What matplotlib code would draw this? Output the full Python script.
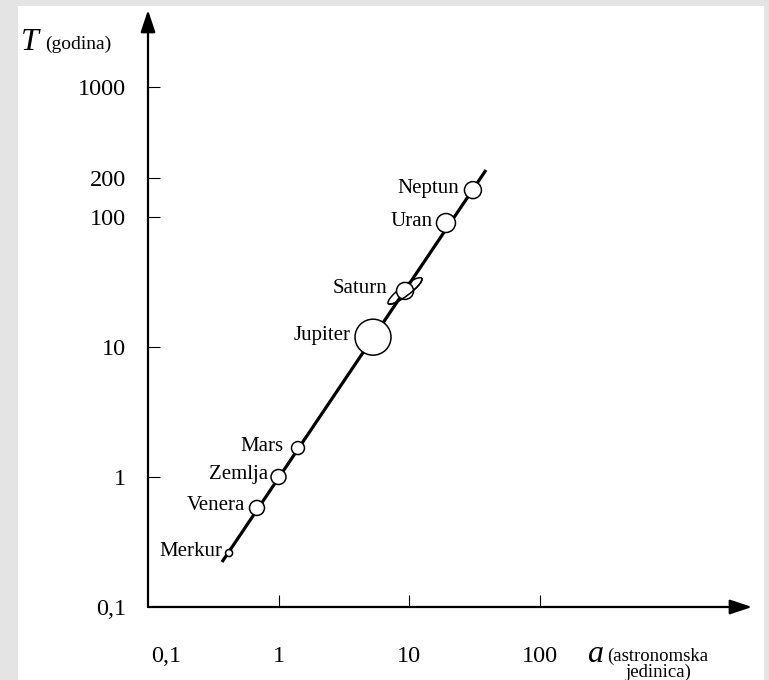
import numpy as np
import matplotlib
matplotlib.use("Agg")
import matplotlib.pyplot as plt
from matplotlib.patches import Rectangle, Ellipse, Arc
from matplotlib.transforms import ScaledTranslation

plt.rcParams['font.family'] = ['Liberation Serif', 'DejaVu Serif']

# planet data: semi-major axis a (AU) and period T (years)
planets = ['Merkur', 'Venera', 'Zemlja', 'Mars', 'Jupiter', 'Saturn', 'Uran', 'Neptun']
a_au = [0.418, 0.684, 1.0, 1.41, 5.30, 9.32, 19.2, 30.9]
T_yr = [0.26, 0.578, 1.0, 1.67, 11.9, 27.0, 89.9, 161]
# drawn size of each planet symbol (pixels, diameter)
size_px = [7, 15, 15, 13, 36, 17, 19, 17]
# gap between symbol and its name (pixels)
gap_px = [3, 4, 3, 8, 4, 9, 4, 5]

# the straight line through the points
line_a = [0.369, 38.9]
line_T = [0.222, 230]

x_ticks = [1, 10, 100]
x_labels = ['1', '10', '100']
y_ticks = [0.1, 1, 10, 100, 200, 1000]
y_labels = ['0,1', '1', '10', '100', '200', '1000']

W, H, DPI = 769, 680, 100
fig = plt.figure(figsize=(W / DPI, H / DPI), dpi=DPI)
fig.patch.set_facecolor('#e4e4e4')
fig.patches.append(Rectangle((18 / W, 0), (764 - 18) / W, (H - 6) / H,
                             transform=fig.transFigure, facecolor='white',
                             edgecolor='none', zorder=0))

# axes: origin (0.1, 0.1) at pixel (148, 607), one decade ~130 px
x0, y0, x1, y1 = 148, 607, 752, 10
ax = fig.add_axes([x0 / W, (H - y0) / H, (x1 - x0) / W, (y0 - y1) / H])
ax.set_zorder(2)
ax.set_facecolor('none')
ax.set_xscale('log')
ax.set_yscale('log')
ax.set_xlim(0.1, 0.1 * 10 ** ((x1 - x0) / 130.5))
ax.set_ylim(0.1, 0.1 * 10 ** ((y0 - y1) / 130.0))
for s in ax.spines.values():
    s.set_visible(False)

# axis arrows
arrow = dict(arrowstyle='-|>,head_length=0.9,head_width=0.3', lw=1.6,
             color='black', shrinkA=0, shrinkB=0, mutation_scale=15)
ax.annotate('', xy=(1, 0), xytext=(0, 0), xycoords='axes fraction', arrowprops=arrow)
ax.annotate('', xy=(0, 1), xytext=(0, 0), xycoords='axes fraction', arrowprops=arrow)

ax.set_xticks(x_ticks)
ax.set_xticklabels(x_labels)
ax.set_yticks(y_ticks)
ax.set_yticklabels(y_labels)
ax.minorticks_off()
ax.tick_params(direction='in', length=8.5, width=0.8, labelsize=17.5)
ax.tick_params(axis='x', pad=28)
ax.tick_params(axis='y', pad=16)
ax.yaxis.get_major_ticks()[0].tick1line.set_visible(False)

ax.annotate('0,1', xy=(0.1, 0.1), xytext=(18, -50), textcoords='offset pixels',
            ha='center', va='center', fontsize=17.5, annotation_clip=False)

# line and planets
ax.plot(line_a, line_T, color='black', lw=2.3, solid_capstyle='butt', zorder=2)
ax.scatter(a_au, T_yr, s=[(d * 0.72) ** 2 for d in size_px], facecolor='white',
           edgecolor='black', linewidth=1.1, zorder=3)

# Saturn's ring
si = planets.index('Saturn')
trans = fig.dpi_scale_trans + ScaledTranslation(a_au[si], T_yr[si], ax.transData)
ring = Ellipse((0, 0), 0.42, 0.10, angle=37, transform=trans, facecolor='none',
               edgecolor='black', lw=1.1, zorder=2.5)
ax.add_patch(ring)
front = Arc((0, 0), 0.42, 0.10, angle=37, theta1=180, theta2=360, transform=trans,
            edgecolor='black', lw=1.1, zorder=4)
ax.add_patch(front)

for name, a, t, d, g in zip(planets, a_au, T_yr, size_px, gap_px):
    ax.annotate(name, xy=(a, t), xytext=(-(d / 2 + g), 2), textcoords='offset pixels',
                ha='right', va='center', fontsize=15)

# axis titles
fig.text(21 / W, 1 - 43 / H, 'T', style='italic', fontsize=23, va='center', ha='left')
fig.text(45 / W, 1 - 44 / H, '(godina)', fontsize=14, va='center', ha='left')
fig.text(587 / W, 1 - 655 / H, 'a', style='italic', fontsize=23, va='center', ha='left')
fig.text(658 / W, 1 - 664 / H, '(astronomska\njedinica)', fontsize=13.5,
         va='center', ha='center', multialignment='center', linespacing=0.9)

fig.savefig('out.png', dpi=DPI, facecolor=fig.get_facecolor())
